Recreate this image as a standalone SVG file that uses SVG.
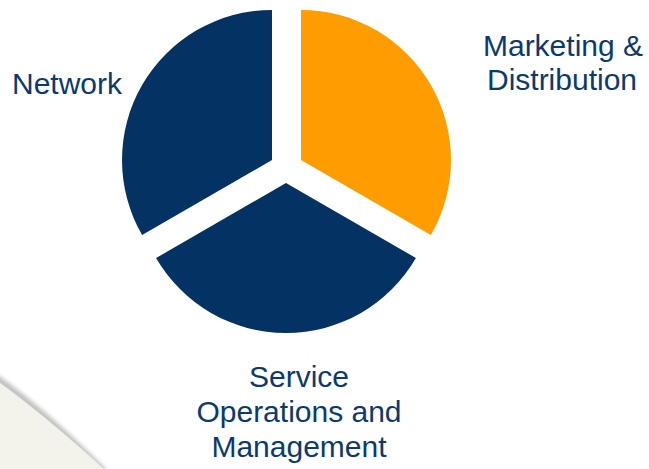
<svg xmlns="http://www.w3.org/2000/svg" width="649" height="469" viewBox="0 0 649 469">
  <defs>
    <filter id="soft" x="-20%" y="-20%" width="140%" height="140%">
      <feGaussianBlur stdDeviation="2.2"/>
    </filter>
    <style>
      .navy { fill: #033263; }
      .orange { fill: #FF9C00; }
      .label { font-family: "Liberation Sans", Arial, sans-serif; font-size: 30px; fill: #0B3A6E; }
      .mid { text-anchor: middle; }
    </style>
  </defs>

  <!-- page background -->
  <rect x="0" y="0" width="649" height="469" fill="#FFFFFF"/>

  <!-- curled page corner, bottom left -->
  <g id="page-corner">
    <path d="M-4,378 Q46,414 104,472" fill="none" stroke="#BDBDBD" stroke-width="7" filter="url(#soft)"/>
    <path d="M0,383 Q48,418 104,469 L0,469 Z" fill="#F3F3EC"/>
  </g>

  <!-- exploded pie -->
  <g id="sector-marketing">
    <path class="orange" d="M301,160 L301,10 A150,150 0 0 1 430.9,235 Z"/>
  </g>
  <g id="sector-network">
    <path class="navy" d="M272,160 L142.1,235 A150,150 0 0 1 272,10 Z"/>
  </g>
  <g id="sector-service">
    <path class="navy" d="M286,183 L415.9,258 A150,150 0 0 1 156.1,258 Z"/>
  </g>

  <!-- labels -->
  <g id="label-network">
    <text class="label" x="12" y="94">Network</text>
  </g>
  <g id="label-marketing">
    <text class="label mid" x="563" y="56">Marketing &amp;</text>
    <text class="label mid" x="562" y="90">Distribution</text>
  </g>
  <g id="label-service">
    <text class="label mid" x="299" y="387">Service</text>
    <text class="label mid" x="299" y="422">Operations and</text>
    <text class="label mid" x="299" y="457">Management</text>
  </g>
</svg>
